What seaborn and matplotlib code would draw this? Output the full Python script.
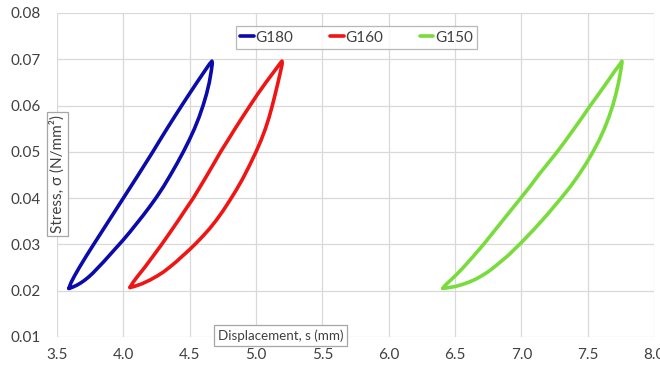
import matplotlib
matplotlib.use("Agg")
import matplotlib.pyplot as plt
from matplotlib.lines import Line2D
import seaborn as sns
import pandas as pd

series_names = ["G180", "G160", "G150"]
colors = ["#0b0bab", "#f01515", "#78dc3c"]

# Each loop: bottom tip -> lower/right branch -> top tip -> upper/left branch -> bottom tip
g180_x = [3.590, 3.620, 3.650, 3.680, 3.710, 3.740, 3.770, 3.800, 3.850, 3.900, 3.950, 4.000, 4.050, 4.100,
          4.150, 4.200, 4.250, 4.303, 4.355, 4.405, 4.452, 4.496, 4.536, 4.571, 4.601, 4.627, 4.648,
          4.663, 4.670, 4.668,
          4.657, 4.650, 4.614, 4.555, 4.497, 4.440, 4.384, 4.329, 4.275, 4.222, 4.167, 4.112, 4.056, 4.000,
          3.944, 3.888, 3.832, 3.776, 3.721, 3.668, 3.632, 3.605, 3.593, 3.590]
g180_y = [0.0205, 0.0208, 0.0212, 0.0217, 0.0223, 0.0230, 0.0238, 0.0247, 0.0262, 0.0278, 0.0294, 0.0310, 0.0327, 0.0345,
          0.0363, 0.0382, 0.0402, 0.0425, 0.0450, 0.0475, 0.0500, 0.0525, 0.0550, 0.0575, 0.0600, 0.0625, 0.0650,
          0.0675, 0.0690, 0.0696,
          0.0692, 0.0690, 0.0675, 0.0650, 0.0625, 0.0600, 0.0575, 0.0550, 0.0525, 0.0500, 0.0475, 0.0450, 0.0425, 0.0400,
          0.0375, 0.0350, 0.0325, 0.0300, 0.0275, 0.0250, 0.0232, 0.0217, 0.0208, 0.0205]

g160_x = [4.051, 4.080, 4.110, 4.140, 4.170, 4.200, 4.250, 4.300, 4.350, 4.400, 4.450, 4.500, 4.550, 4.600,
          4.650, 4.700, 4.750, 4.800, 4.850, 4.900, 4.950, 5.000, 5.038, 5.071, 5.099, 5.123, 5.145, 5.166,
          5.186, 5.197, 5.196,
          5.184, 5.140, 5.075, 5.013, 4.955, 4.898, 4.842, 4.788, 4.733, 4.683, 4.632, 4.580, 4.527,
          4.468, 4.410, 4.350, 4.289, 4.225, 4.160, 4.110, 4.073, 4.056, 4.051]
g160_y = [0.0207, 0.0209, 0.0212, 0.0215, 0.0219, 0.0223, 0.0231, 0.0240, 0.0251, 0.0263, 0.0276, 0.0289, 0.0303, 0.0318,
          0.0334, 0.0352, 0.0372, 0.0394, 0.0417, 0.0442, 0.0470, 0.0500, 0.0525, 0.0550, 0.0575, 0.0600, 0.0625, 0.0650,
          0.0675, 0.0690, 0.0696,
          0.0692, 0.0675, 0.0650, 0.0625, 0.0600, 0.0575, 0.0550, 0.0525, 0.0500, 0.0475, 0.0450, 0.0425, 0.0400,
          0.0375, 0.0350, 0.0325, 0.0300, 0.0275, 0.0250, 0.0232, 0.0218, 0.0210, 0.0207]

g150_x = [6.409, 6.450, 6.500, 6.550, 6.600, 6.650, 6.700, 6.750, 6.800, 6.850, 6.900, 6.950, 7.000, 7.050,
          7.100, 7.150, 7.200, 7.250, 7.300, 7.370, 7.432, 7.489, 7.540, 7.586, 7.626, 7.660, 7.689, 7.713,
          7.733, 7.749, 7.757, 7.758,
          7.745, 7.705, 7.645, 7.583, 7.520, 7.460, 7.398, 7.335, 7.270, 7.200, 7.130, 7.065, 6.995,
          6.925, 6.855, 6.785, 6.715, 6.640, 6.562, 6.512, 6.475, 6.438, 6.418, 6.409]
g150_y = [0.0205, 0.02065, 0.0209, 0.0213, 0.0218, 0.0224, 0.0232, 0.0241, 0.0252, 0.0264, 0.0276, 0.0290, 0.0304, 0.0319,
          0.0334, 0.0350, 0.0366, 0.0383, 0.0400, 0.0425, 0.0450, 0.0475, 0.0500, 0.0525, 0.0550, 0.0575, 0.0600, 0.0625,
          0.0650, 0.0675, 0.0690, 0.0696,
          0.0690, 0.0675, 0.0650, 0.0625, 0.0600, 0.0575, 0.0550, 0.0525, 0.0500, 0.0475, 0.0450, 0.0425, 0.0400,
          0.0375, 0.0350, 0.0325, 0.0300, 0.0275, 0.0250, 0.0235, 0.0225, 0.0215, 0.0209, 0.0205]

x_ticks = [3.5, 4.0, 4.5, 5.0, 5.5, 6.0, 6.5, 7.0, 7.5, 8.0]
y_ticks = [0.01, 0.02, 0.03, 0.04, 0.05, 0.06, 0.07, 0.08]

frames = []
for name, xs, ys in zip(series_names, [g180_x, g160_x, g150_x], [g180_y, g160_y, g150_y]):
    frames.append(pd.DataFrame({"x": xs, "y": ys, "series": name}))
df = pd.concat(frames, ignore_index=True)

sns.set_theme(style="white")
plt.rcParams["font.family"] = ["Lato", "DejaVu Sans"]

fig = plt.figure(figsize=(6.6, 3.72), dpi=100)
ax = fig.add_axes([57 / 660, 1 - 337 / 372, (654 - 57) / 660, (337 - 13) / 372])

sns.lineplot(data=df, x="x", y="y", hue="series", hue_order=series_names,
             palette=dict(zip(series_names, colors)), sort=False, estimator=None,
             linewidth=2.6, ax=ax, legend=False,
             solid_joinstyle="round", solid_capstyle="round")

ax.set_xlim(3.5, 8.0)
ax.set_ylim(0.01, 0.08)
ax.set_xticks(x_ticks)
ax.set_xticklabels([f"{v:.1f}" for v in x_ticks])
ax.set_yticks(y_ticks)
ax.set_yticklabels([f"{v:.2f}" for v in y_ticks])
ax.grid(True, color="#d9d9d9", linewidth=0.9)
ax.set_axisbelow(True)
for s in ax.spines.values():
    s.set_visible(False)
ax.tick_params(axis="both", length=0, labelsize=11, colors="#404040")
ax.tick_params(axis="y", pad=12)
ax.tick_params(axis="x", pad=8)
ax.set_xlabel("")
ax.set_ylabel("")

handles = [Line2D([0], [0], color=c, linewidth=2.6) for c in colors]
leg = fig.legend(handles, series_names, loc="center", bbox_to_anchor=(356.5 / 660, 1 - 37.5 / 372),
                 ncol=3, frameon=True, fancybox=False, edgecolor="#a6a6a6", fontsize=11,
                 handlelength=0.9, handletextpad=0.1, columnspacing=2.4, borderpad=0.3)
leg.get_frame().set_linewidth(0.9)
for t in leg.get_texts():
    t.set_color("#404040")

fig.text(57.5 / 660, 1 - 174 / 372, "Stress, σ (N/mm²)", rotation=90, ha="center", va="center",
         fontsize=11, color="#404040",
         bbox=dict(boxstyle="square,pad=0.2", fc="white", ec="#a6a6a6", lw=0.9))
fig.text(280.5 / 660, 1 - 335.5 / 372, "Displacement, s (mm)", ha="center", va="center",
         fontsize=9.6, color="#404040",
         bbox=dict(boxstyle="square,pad=0.3", fc="white", ec="#a6a6a6", lw=0.9))

fig.savefig("out.png", dpi=100)
